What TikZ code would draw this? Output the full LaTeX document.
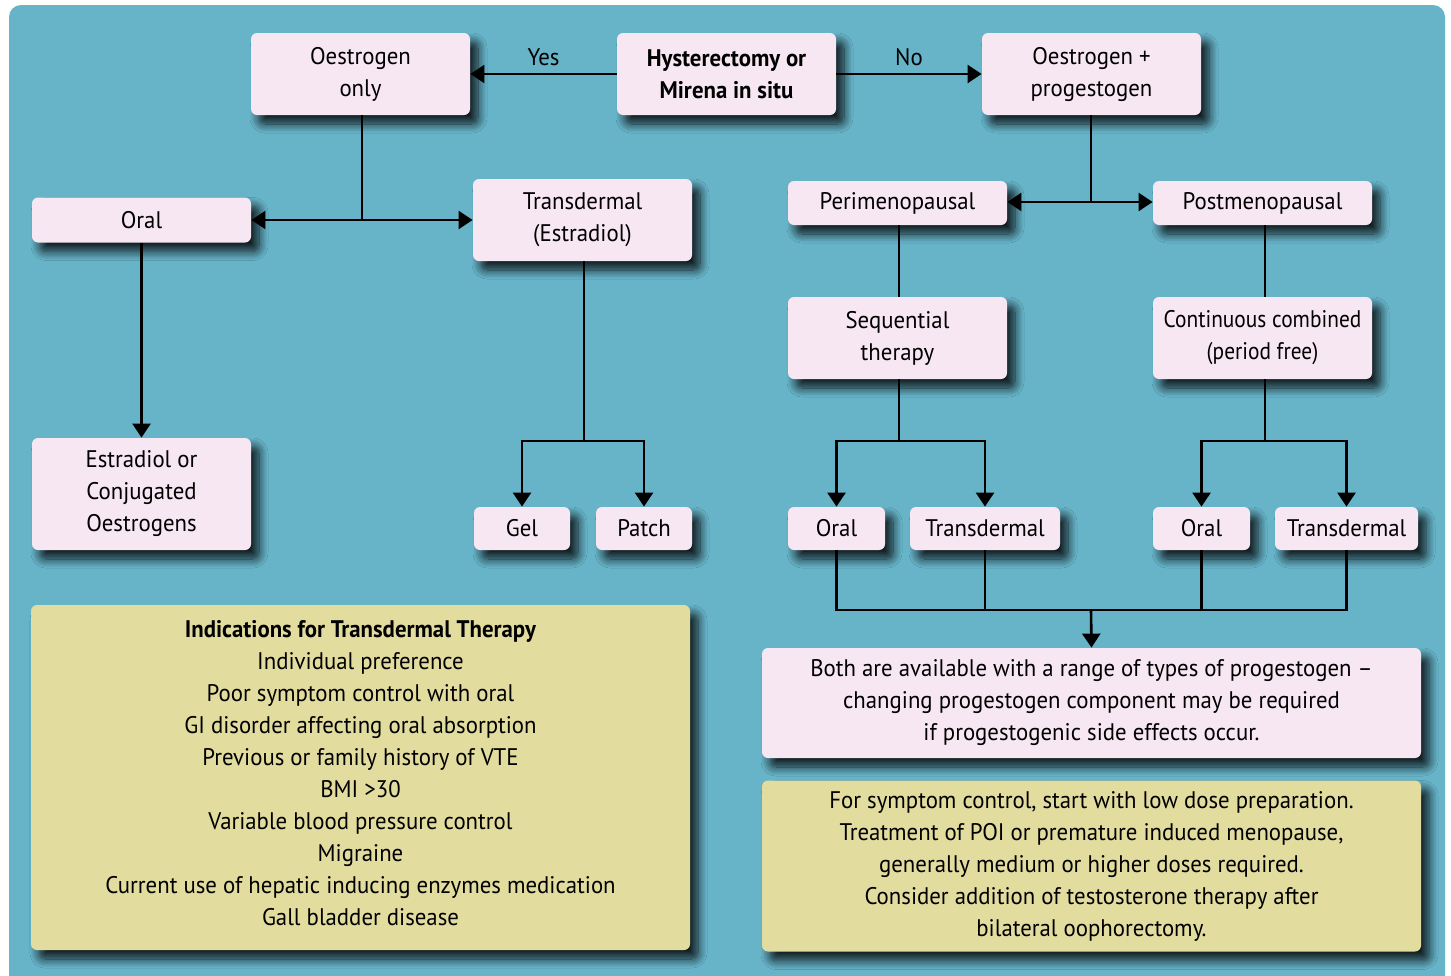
\documentclass[tikz,border=0pt]{standalone}
\usepackage{fontspec}
\setmainfont{PT Sans}[FakeStretch=0.95]
\newfontfamily\tightfont{PT Sans}[FakeStretch=0.89]
\usetikzlibrary{shadows.blur,arrows.meta}
\definecolor{bgteal}{HTML}{67B4C9}
\definecolor{pinkbox}{HTML}{F7E7F2}
\definecolor{yelbox}{HTML}{E2DC9F}
\tikzset{
  box/.style={rectangle, rounded corners=3pt, fill=pinkbox, inner sep=0pt, align=center,
    font=\fontsize{12}{16}\selectfont, text=black,
    blur shadow={shadow xshift=4pt, shadow yshift=-4.5pt, shadow blur radius=4.5pt, shadow blur steps=10, shadow opacity=85}},
  ybox/.style={box, fill=yelbox},
  conn/.style={line width=1.3pt, draw=black},
  arr/.style={conn, -{Triangle[length=7pt,width=9pt]}},
  lbl/.style={font=\fontsize{12}{16}\selectfont, text=black, inner sep=0pt},
}
\begin{document}
\begin{tikzpicture}[x=0.5pt,y=-0.5pt]
\clip (0,0) rectangle (1451,975);
\fill[white] (0,0) rectangle (1451,975);
\fill[bgteal, rounded corners=6pt] (9,5) rectangle (1445,1000);

% top row
\node[box, minimum width=109.5pt, minimum height=41pt] (oonly) at (360.5,74) {Oestrogen\\only};
\node[box, minimum width=109.5pt, minimum height=41pt, font=\fontsize{12}{16}\selectfont\bfseries] (hyst) at (726.5,74) {Hysterectomy or\\Mirena in situ};
\node[box, minimum width=109.5pt, minimum height=41pt] (oprog) at (1091.5,74) {Oestrogen +\\progestogen};

% left branch
\node[box, minimum width=109.5pt, minimum height=22.5pt] (oral1) at (141.5,220) {Oral};
\node[box, minimum width=109.5pt, minimum height=41pt] (trans1) at (582.5,220) {Transdermal\\(Estradiol)};
\node[box, minimum width=109.5pt, minimum height=56pt] (estr) at (141.5,494) {Estradiol or\\Conjugated\\Oestrogens};
\node[box, minimum width=48pt, minimum height=21.5pt] (gel) at (522,528.5) {Gel};
\node[box, minimum width=48pt, minimum height=21.5pt] (patch) at (644,528.5) {Patch};

% right branch
\node[box, minimum width=109.5pt, minimum height=22pt] (peri) at (897.5,203) {Perimenopausal};
\node[box, minimum width=109.5pt, minimum height=22pt] (post) at (1262.5,203) {Postmenopausal};
\node[box, minimum width=109.5pt, minimum height=41pt] (seq) at (897.5,338) {Sequential\\therapy};
\node[box, minimum width=109.5pt, minimum height=41pt, font=\fontsize{12}{16}\tightfont] (cont) at (1262.5,338) {Continuous combined\\(period free)};
\node[box, minimum width=48.5pt, minimum height=21.5pt] (oralp) at (836.5,528.5) {Oral};
\node[box, minimum width=75pt, minimum height=21.5pt] (transp) at (985,528.5) {Transdermal};
\node[box, minimum width=48.5pt, minimum height=21.5pt] (oralq) at (1201.5,528.5) {Oral};
\node[box, minimum width=71.5pt, minimum height=21.5pt] (transq) at (1346.5,528.5) {Transdermal};

\node[box, minimum width=329.5pt, minimum height=55pt] (both) at (1091.5,703) {Both are available with a range of types of progestogen –\\changing progestogen component may be required\\if progestogenic side effects occur.};
\node[ybox, minimum width=329.5pt, minimum height=85.5pt] (symp) at (1091.5,866) {For symptom control, start with low dose preparation.\\Treatment of POI or premature induced menopause,\\generally medium or higher doses required.\\Consider addition of testosterone therapy after\\bilateral oophorectomy.};
\node[ybox, minimum width=329.5pt, minimum height=172.5pt] (ind) at (360.5,777.5) {};
\node[lbl, align=center] (indtxt) at (360.5,773.5) {\textbf{Indications for Transdermal Therapy}\\Individual preference\\Poor symptom control with oral\\GI disorder affecting oral absorption\\Previous or family history of VTE\\BMI >30\\Variable blood pressure control\\Migraine\\Current use of hepatic inducing enzymes medication\\Gall bladder disease};

% connectors
\draw[arr] (hyst.west) -- (oonly.east) node[lbl, midway, yshift=8.5pt] (yes) {Yes};
\draw[arr] (hyst.east) -- (oprog.west) node[lbl, midway, yshift=8.5pt] (no) {No};

\coordinate (j1) at (362,220);
\draw[conn] (oonly.south -| j1) -- (j1);
\draw[arr] (j1) -- (oral1.east);
\draw[arr] (j1) -- (trans1.west);
\draw[arr] (oral1.south) -- (estr.north);

\coordinate (j2) at (584,441);
\draw[conn] (trans1.south -| j2) -- (j2);
\draw[arr] (j2) -| (gel.north);
\draw[arr] (j2) -| (patch.north);

\coordinate (j3) at (1091,202);
\draw[conn] (oprog.south -| j3) -- (j3);
\draw[arr] (j3) -- (peri.east |- j3);
\draw[arr] (j3) -- (post.west |- j3);

\coordinate (j4) at (899,441);
\coordinate (j5) at (1265,441);
\draw[conn] (peri.south -| j4) -- (seq.north -| j4);
\draw[conn] (post.south -| j5) -- (cont.north -| j5);
\draw[conn] (seq.south -| j4) -- (j4);
\draw[conn] (cont.south -| j5) -- (j5);
\draw[arr] (j4) -| (oralp.north);
\draw[arr] (j4) -| (transp.north);
\draw[arr] (j5) -| (oralq.north);
\draw[arr] (j5) -| (transq.north);

\coordinate (m) at (1091,610);
\draw[conn] (oralp.south) |- (m);
\draw[conn] (m) -| (transq.south);
\draw[conn] (transp.south) -- (transp.south |- m);
\draw[conn] (oralq.south) -- (oralq.south |- m);
\draw[arr] (m) -- (both.north);
\end{tikzpicture}
\end{document}
